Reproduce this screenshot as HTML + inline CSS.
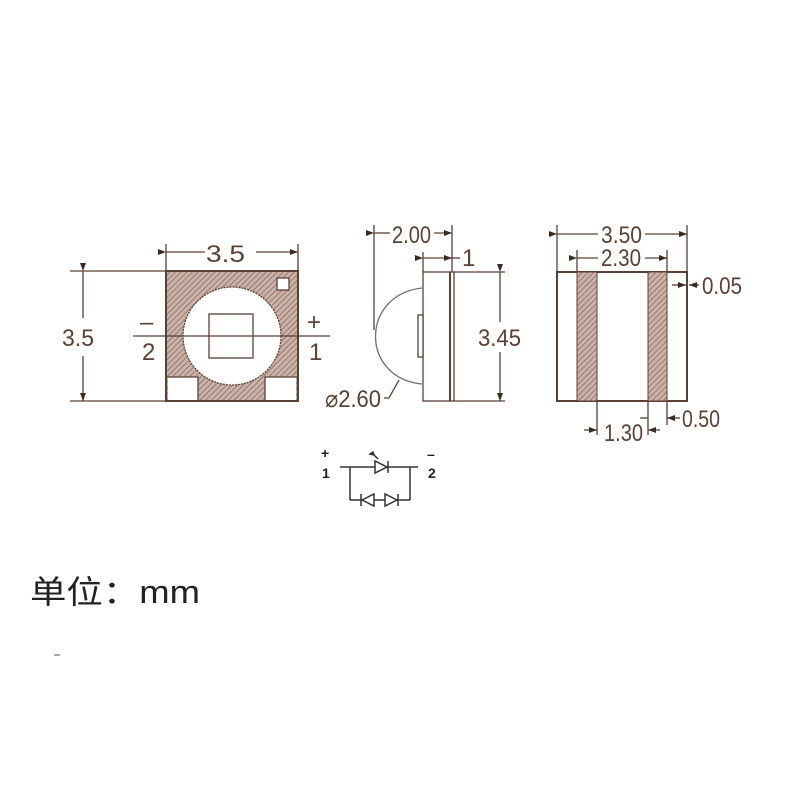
<!DOCTYPE html>
<html><head><meta charset="utf-8"><style>
html,body{margin:0;padding:0;background:#fff;width:800px;height:800px;overflow:hidden}
svg{display:block}
text{font-family:"Liberation Sans Narrow","Liberation Sans",sans-serif;fill:#5a4035}
</style></head><body>
<svg width="800" height="800" viewBox="0 0 800 800" xmlns="http://www.w3.org/2000/svg">
<defs>
<pattern id="h" width="4" height="4" patternUnits="userSpaceOnUse" patternTransform="rotate(45)">
<rect width="4" height="4" fill="#cbb3aa"/><line x1="0" y1="0" x2="0" y2="4" stroke="#8a6a5e" stroke-width="1.6"/>
</pattern>
<marker id="a" markerWidth="8" markerHeight="6" refX="8" refY="3" orient="auto" markerUnits="userSpaceOnUse"><path d="M0,0 L8,3 L0,6 Z" fill="#3a2a22"/></marker>
</defs>
<g stroke="#5a4035" fill="none" stroke-width="1.3">
<rect x="166" y="271" width="132" height="130" fill="url(#h)" stroke-width="2"/>
<circle cx="232" cy="336" r="49" fill="#fff" stroke-dasharray="2 1"/>
<rect x="209" y="314" width="44" height="44" fill="#fff"/>
<rect x="277" y="278" width="12" height="12" fill="#fff"/>
<rect x="168" y="377" width="30" height="23" fill="#fff" stroke="none"/>
<path d="M167,377 H198 V400"/>
<rect x="265" y="377" width="31" height="23" fill="#fff" stroke="none"/>
<path d="M297,377 H265 V400"/>
<line x1="133" y1="336" x2="330" y2="336"/>
<line x1="166" y1="244" x2="166" y2="271"/><line x1="298" y1="244" x2="298" y2="271"/>
<line x1="166" y1="252" x2="205" y2="252" marker-start="url(#a)"/><line x1="256" y1="252" x2="298" y2="252" marker-end="url(#a)"/>
<line x1="70" y1="271" x2="166" y2="271"/><line x1="70" y1="401" x2="166" y2="401"/>
<line x1="83" y1="271" x2="83" y2="318" marker-start="url(#a)"/><line x1="83" y1="356" x2="83" y2="401" marker-end="url(#a)"/>
<rect x="423" y="272" width="31" height="129" fill="#fff"/>
<line x1="450" y1="272" x2="450" y2="401" stroke-width="2"/>
<path d="M422,288 C360,295 360,378 422,384" stroke="#6a7480"/>
<rect x="418" y="315" width="5" height="42" fill="#fff"/>
<line x1="374" y1="225" x2="374" y2="330"/><line x1="452" y1="225" x2="452" y2="272"/>
<line x1="374" y1="233" x2="390" y2="233" marker-start="url(#a)"/><line x1="434" y1="233" x2="452" y2="233" marker-end="url(#a)"/>
<line x1="423" y1="252" x2="423" y2="272"/>
<line x1="423" y1="258" x2="452" y2="258" marker-start="url(#a)" marker-end="url(#a)"/><line x1="452" y1="258" x2="460" y2="258"/>
<line x1="454" y1="272" x2="505" y2="272"/><line x1="454" y1="401" x2="505" y2="401"/>
<line x1="500" y1="272" x2="500" y2="322" marker-start="url(#a)"/><line x1="500" y1="352" x2="500" y2="401" marker-end="url(#a)"/>
<path d="M384,398 H389 L399,380"/>
<rect x="557" y="272" width="130" height="129" fill="#fff" stroke-width="2"/>
<rect x="577" y="272" width="20" height="129" fill="url(#h)" stroke-width="1"/>
<rect x="648" y="272" width="19" height="129" fill="url(#h)" stroke-width="1"/>
<line x1="557" y1="225" x2="557" y2="272"/><line x1="687" y1="225" x2="687" y2="272"/>
<line x1="557" y1="234" x2="598" y2="234" marker-start="url(#a)"/><line x1="645" y1="234" x2="687" y2="234" marker-end="url(#a)"/>
<line x1="577" y1="250" x2="577" y2="272"/><line x1="667" y1="250" x2="667" y2="272"/>
<line x1="577" y1="258" x2="598" y2="258" marker-start="url(#a)"/><line x1="645" y1="258" x2="667" y2="258" marker-end="url(#a)"/>
<line x1="672" y1="285" x2="686" y2="285" marker-end="url(#a)"/><line x1="699" y1="285" x2="689" y2="285" marker-end="url(#a)"/>
<line x1="597" y1="401" x2="597" y2="435"/><line x1="648" y1="401" x2="648" y2="435"/><line x1="667" y1="401" x2="667" y2="425"/>
<line x1="584" y1="430" x2="597" y2="430" marker-end="url(#a)"/><line x1="660" y1="430" x2="648" y2="430" marker-end="url(#a)"/>
<line x1="640" y1="418" x2="648" y2="418"/>
<line x1="680" y1="418" x2="667" y2="418" marker-end="url(#a)"/>
</g>
<g stroke="#333" fill="none" stroke-width="1.5">
<line x1="340" y1="467" x2="418" y2="467"/>
<line x1="350" y1="467" x2="350" y2="500"/><line x1="410" y1="467" x2="410" y2="500"/>
<line x1="350" y1="500" x2="410" y2="500"/>
<path d="M375,461 L375,473 L387,467 Z" fill="#fff"/><line x1="388" y1="461" x2="388" y2="473"/>
<path d="M372,453 L378,459" /><path d="M370,454 l3,-2 l1,3 z" fill="#333"/>
<path d="M362,500 L374,494 L374,506 Z" fill="#fff"/><line x1="361" y1="494" x2="361" y2="506"/>
<path d="M385,494 L385,506 L397,500 Z" fill="#fff"/><line x1="398" y1="494" x2="398" y2="506"/>
</g>
<g font-size="24" lengthAdjust="spacingAndGlyphs">
<text x="206" y="262" textLength="39" lengthAdjust="spacingAndGlyphs">3.5</text>
<text x="62" y="346" textLength="32" lengthAdjust="spacingAndGlyphs">3.5</text>
<text x="140" y="330">–</text><text x="142" y="360">2</text>
<text x="307" y="330">+</text><text x="309" y="360">1</text>
<text x="392" y="243" textLength="39" lengthAdjust="spacingAndGlyphs">2.00</text>
<text x="462" y="266">1</text>
<text x="478" y="346" textLength="43" lengthAdjust="spacingAndGlyphs">3.45</text>
<text x="325" y="407" textLength="56" lengthAdjust="spacingAndGlyphs">⌀2.60</text>
<text x="601" y="243" textLength="41" lengthAdjust="spacingAndGlyphs">3.50</text>
<text x="601" y="266" textLength="40" lengthAdjust="spacingAndGlyphs">2.30</text>
<text x="702" y="294" textLength="40" lengthAdjust="spacingAndGlyphs">0.05</text>
<text x="604" y="441" textLength="39" lengthAdjust="spacingAndGlyphs">1.30</text>
<text x="682" y="427" textLength="38" lengthAdjust="spacingAndGlyphs">0.50</text>
</g>
<g font-size="14" font-weight="bold" style="font-family:'Liberation Sans',sans-serif">
<text x="321" y="458" style="fill:#222">+</text><text x="322" y="478" style="fill:#222">1</text>
<text x="427" y="459" style="fill:#222">–</text><text x="428" y="478" style="fill:#222">2</text>
</g>
<text x="30" y="603" font-size="32" textLength="170" lengthAdjust="spacingAndGlyphs" style="font-family:'Liberation Sans','Noto Sans CJK SC',sans-serif;fill:#222">单位：mm</text>
<line x1="54" y1="655" x2="60" y2="655" stroke="#555"/>
</svg>
</body></html>
